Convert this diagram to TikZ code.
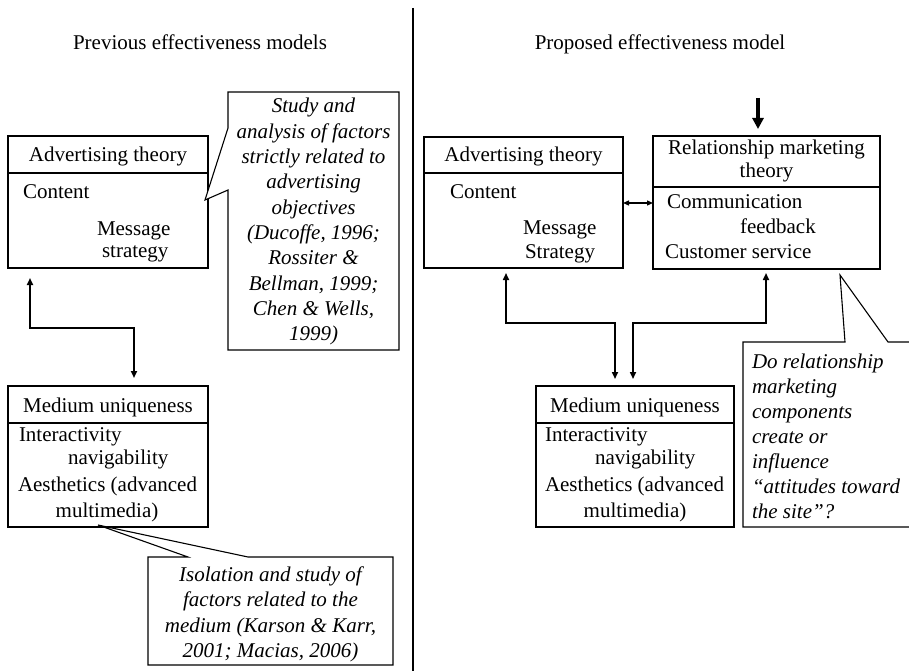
\documentclass[tikz,border=0pt]{standalone}
\usepackage{fontspec}
\setmainfont{Liberation Serif}
\usetikzlibrary{arrows.meta,calc}
\begin{document}
\begin{tikzpicture}[x=1pt,y=-1pt,
  every node/.style={inner sep=0pt, outer sep=0pt},
  txt/.style={font=\fontsize{21}{25.3}\selectfont},
  itx/.style={font=\fontsize{21}{25.3}\selectfont\itshape},
  box/.style={draw, line width=1.1pt, inner sep=0pt},
  rbox/.style={draw, line width=2pt, inner sep=0pt},
  thinline/.style={line width=1.1pt},
  callout/.style={line width=1.1pt, fill=white},
  conn/.style={line width=1.8pt, {Triangle[length=7pt,width=6pt]}-{Triangle[length=7pt,width=6pt]}},
  connr/.style={line width=1.6pt, {Triangle[length=7pt,width=6pt]}-{Triangle[length=7pt,width=6pt]}},
  dbl/.style={line width=1.3pt, {Triangle[length=6pt,width=5pt]}-{Triangle[length=6pt,width=5pt]}},
  thick arrow/.style={line width=3.6pt, -{Triangle[length=11pt,width=11pt]}}]
\clip (0,0) rectangle (909,671);
\fill[white] (0,0) rectangle (909,671);

% headers and divider
\node[txt, anchor=base] (h1) at (200,50) {Previous effectiveness models};
\node[txt, anchor=base] (h2) at (660,50) {Proposed effectiveness model};
\coordinate (vtop) at (413,8);
\coordinate (vbot) at (413,671);
\draw[line width=1.6pt] (vtop) -- (vbot);

% ---------- left: advertising theory
\node[box, minimum width=200pt, minimum height=132pt] (la) at (108,202) {};
\draw[thinline] (la.west |- 0,173) -- (la.east |- 0,173);
\node[txt, anchor=base] (lat) at (108,161) {Advertising theory};
\node[txt, anchor=base west] (lac) at (23,198) {Content};
\node[txt, anchor=base west] (lam) at (97,235) {Message};
\node[txt, anchor=base west] (las) at (102,257) {strategy};

% left callout 1
\draw[callout] (205,200) -- (228,128) -- (228,92) -- (399,92) -- (399,350) -- (228,350) -- (228,190) -- cycle;
\node[itx, anchor=base] (c1) at (313.5,113) {\parbox[t]{171pt}{\centering Study and\\ analysis of factors\\ strictly related to\\ advertising\\ objectives\\ (Ducoffe, 1996;\\ Rossiter \&\\ Bellman, 1999;\\ Chen \& Wells,\\ 1999)}};

% left: medium uniqueness
\node[box, minimum width=200pt, minimum height=141pt] (lm) at (108,456.5) {};
\draw[thinline] (lm.west |- 0,423) -- (lm.east |- 0,423);
\node[txt, anchor=base] (lmh) at (108,412) {Medium uniqueness};
\node[txt, anchor=base west] (lmi) at (19,441) {Interactivity};
\node[txt, anchor=base west] (lmn) at (68,464) {navigability};
\node[txt, anchor=base west] (lma) at (18,491) {Aesthetics (advanced};
\node[txt, anchor=base] (lmm) at (107,517) {multimedia)};

% left connector
\draw[conn] ($(la.south west)+(22,10)$) -- (30,328) -- (134,328) -- ($(lm.north west)+(126,-8)$);

% left callout 2
\draw[callout] (98,525) -- (188,557) -- (148,557) -- (148,665) -- (393,665) -- (393,557) -- (248,557) -- cycle;
\node[itx, anchor=base] (c2) at (270.5,581) {\fontsize{21}{25.6}\selectfont\parbox[t]{245pt}{\centering Isolation and study of\\ factors related to the\\ medium (Karson \& Karr,\\ 2001; Macias, 2006)}};

% ---------- right: advertising theory
\node[box, minimum width=199pt, minimum height=131pt] (ra) at (523.5,202.5) {};
\draw[thinline] (ra.west |- 0,173) -- (ra.east |- 0,173);
\node[txt, anchor=base] (rat) at (523.5,161) {Advertising theory};
\node[txt, anchor=base west] (rac) at (450,198) {Content};
\node[txt, anchor=base west] (ram) at (523,234) {Message};
\node[txt, anchor=base west] (ras) at (525,258) {Strategy};

% right: relationship marketing theory
\node[rbox, minimum width=227pt, minimum height=133pt] (rr) at (766.5,202.5) {};
\draw[line width=2pt] (rr.west |- 0,187) -- (rr.east |- 0,187);
\node[txt, anchor=base] (rrt1) at (766.5,155) {Relationship marketing};
\node[txt, anchor=base] (rrt2) at (766.5,178) {theory};
\node[txt, anchor=base west] (rrc) at (667,208) {Communication};
\node[txt, anchor=base west] (rrf) at (740,233) {feedback};
\node[txt, anchor=base west] (rrs) at (665,258) {Customer service};

\draw[dbl] (ra.east |- 0,203) -- (rr.west |- 0,203);
\coordinate (tin) at (758,98);
\draw[thick arrow] (tin) -- ($(rr.north west)+(105,-7)$);

% right: medium uniqueness
\node[box, minimum width=198pt, minimum height=141pt] (rm) at (635,456.5) {};
\draw[thinline] (rm.west |- 0,423) -- (rm.east |- 0,423);
\node[txt, anchor=base] (rmh) at (635,412) {Medium uniqueness};
\node[txt, anchor=base west] (rmi) at (545,441) {Interactivity};
\node[txt, anchor=base west] (rmn) at (595,464) {navigability};
\node[txt, anchor=base west] (rma) at (545,491) {Aesthetics (advanced};
\node[txt, anchor=base] (rmm) at (635,517) {multimedia)};

% right connectors
\draw[connr] ($(ra.south west)+(82,5)$) -- (506,323) -- (615,323) -- ($(rm.north west)+(79,-7)$);
\draw[connr] ($(rr.south west)+(113,4)$) -- (766,323) -- (633,323) -- ($(rm.north west)+(97,-7)$);

% right callout 3
\draw[thinline] (920,342) -- (888,342) -- (840,275) -- (845,342) -- (743,342) -- (743,527) -- (920,527);
\node[itx, anchor=base west] (c3) at (752,368) {\fontsize{21}{25}\selectfont\parbox[t]{200pt}{\raggedright Do relationship\\ marketing\\ components\\ create or\\ influence\\ “attitudes toward\\ the site”?}};
\end{tikzpicture}
\end{document}
